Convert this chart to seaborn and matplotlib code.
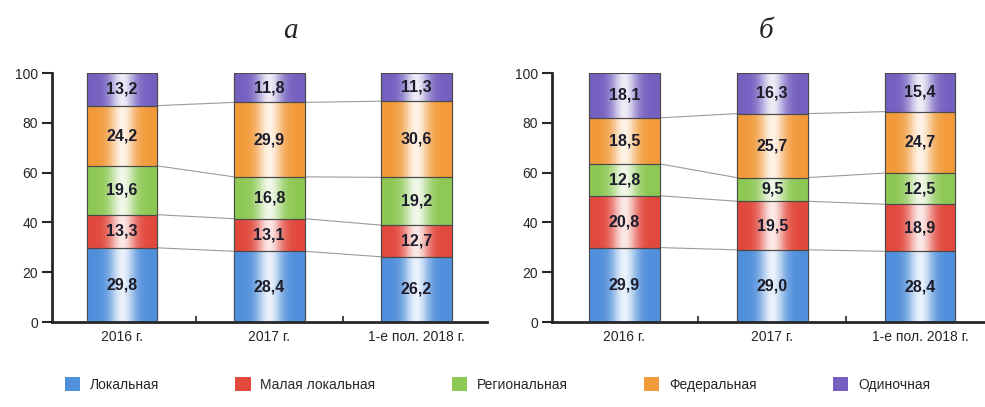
import matplotlib
matplotlib.use("Agg")
import matplotlib.pyplot as plt
import matplotlib.colors as mcolors
from matplotlib.patches import Patch
import numpy as np
import seaborn as sns

# data
periods = ["2016 г.", "2017 г.", "1-е пол. 2018 г."]
categories = ["Локальная", "Малая локальная", "Региональная", "Федеральная", "Одиночная"]
colors = ["#4f8fdc", "#e2483c", "#8dc853", "#f29a3a", "#7560c0"]

# panel а
a_local = [29.8, 28.4, 26.2]
a_small = [13.3, 13.1, 12.7]
a_region = [19.6, 16.8, 19.2]
a_federal = [24.2, 29.9, 30.6]
a_single = [13.2, 11.8, 11.3]

# panel б
b_local = [29.9, 29.0, 28.4]
b_small = [20.8, 19.5, 18.9]
b_region = [12.8, 9.5, 12.5]
b_federal = [18.5, 25.7, 24.7]
b_single = [18.1, 16.3, 15.4]

panels = [
    ("а", [a_local, a_small, a_region, a_federal, a_single]),
    ("б", [b_local, b_small, b_region, b_federal, b_single]),
]

sns.set_style("ticks")
plt.rcParams["font.family"] = ["Liberation Sans", "DejaVu Sans"]

fig = plt.figure(figsize=(9.85, 4.07), dpi=100)
axes = [
    fig.add_axes([0.0528, 0.2088, 0.4416, 0.6118]),
    fig.add_axes([0.5604, 0.2088, 0.4396, 0.6118]),
]
xlims = [(-0.476, 2.48), (-0.49, 2.44)]
title_x = [0.295, 0.778]
width = 0.48

t = np.linspace(0, 1, 64)
glow = 0.88 * np.exp(-((t - 0.5) / 0.18) ** 2)


def gradient_fill(ax, patch, color):
    rgb = np.array(mcolors.to_rgb(color))
    img = rgb[None, :] * (1 - glow[:, None]) + glow[:, None]
    img = img[None, :, :]
    x0, y0 = patch.get_x(), patch.get_y()
    w, h = patch.get_width(), patch.get_height()
    im = ax.imshow(img, extent=(x0, x0 + w, y0, y0 + h), aspect="auto",
                   interpolation="bicubic", zorder=2)
    im.set_clip_path(patch)


for ax, (title, series), xl, tx in zip(axes, panels, xlims, title_x):
    x = np.arange(len(periods))
    bottom = np.zeros(len(periods))
    tops = []
    for vals, col in zip(series, colors):
        vals = np.array(vals)
        bars = ax.bar(x, vals, width, bottom=bottom, color=col,
                      edgecolor="#4a4a4a", linewidth=0.8, zorder=1)
        for p in bars:
            gradient_fill(ax, p, col)
            edge = plt.Rectangle((p.get_x(), p.get_y()), p.get_width(), p.get_height(),
                                 fill=False, edgecolor="#4a4a4a", linewidth=0.8, zorder=3)
            ax.add_patch(edge)
        for xi, b, v in zip(x, bottom, vals):
            ax.text(xi, b + v / 2, f"{v:.1f}".replace(".", ","), ha="center",
                    va="center", fontsize=11.5, fontweight="bold", color="#1c1c2a", zorder=4)
        bottom = bottom + vals
        tops.append(bottom.copy())

    # connector lines between segment boundaries
    for level in tops[:-1]:
        for i in range(len(periods) - 1):
            ax.plot([x[i] + width / 2, x[i + 1] - width / 2], [level[i], level[i + 1]],
                    color="#9a9a9a", linewidth=0.8, zorder=0)

    ax.set_xlim(*xl)
    ax.set_ylim(0, 100)
    ax.set_yticks([0, 20, 40, 60, 80, 100])
    ax.set_xticks(x)
    ax.set_xticklabels(periods)
    ax.set_xticks([0.5, 1.5], minor=True)
    ax.tick_params(axis="x", which="major", length=0, labelsize=10, pad=6)
    ax.tick_params(axis="x", which="minor", direction="in", length=4, width=1.2)
    ax.tick_params(axis="y", length=7, width=1.5, labelsize=10, pad=3)
    sns.despine(ax=ax, top=True, right=True)
    ax.spines["left"].set_linewidth(2)
    ax.spines["bottom"].set_linewidth(2)
    ax.patch.set_alpha(0)
    fig.text(tx, 0.925, title, ha="center", va="center", fontsize=21,
             family="Liberation Serif", style="italic")

handles = [Patch(facecolor=c, edgecolor="none") for c in colors]
fig.legend(handles, categories, loc="center", bbox_to_anchor=(0.505, 0.055),
           ncol=5, frameon=False, fontsize=10, handlelength=1.1, handleheight=1.1,
           columnspacing=5.5, handletextpad=0.7)

fig.savefig("out.png", dpi=100)
